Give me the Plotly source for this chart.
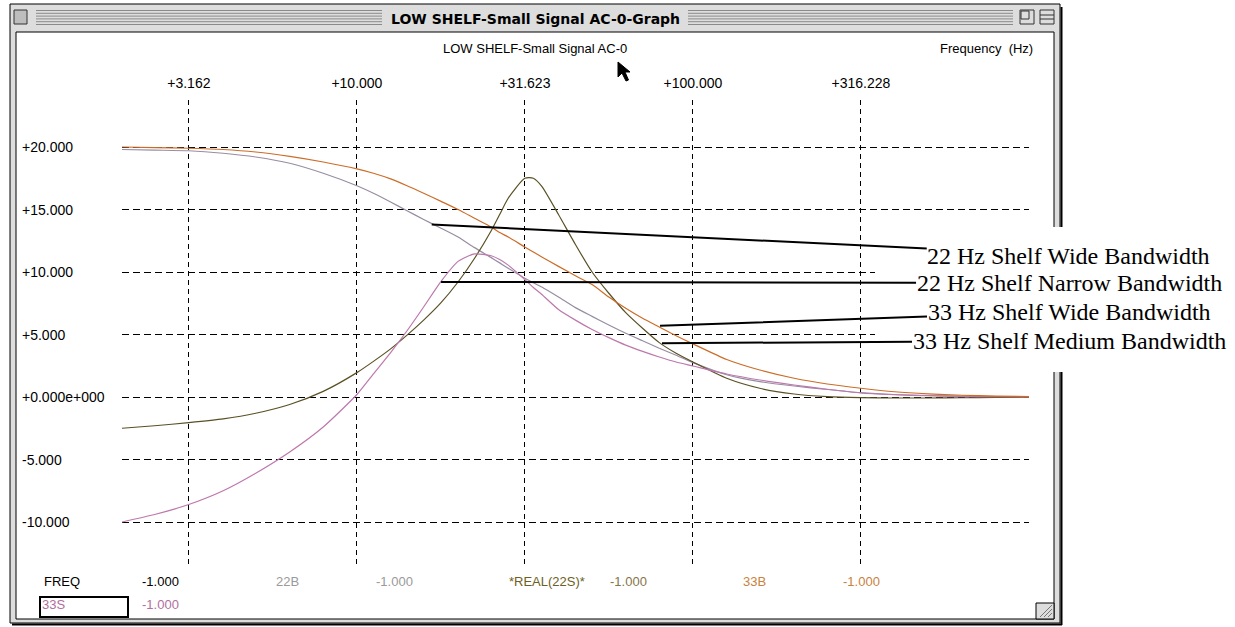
import math
import plotly.graph_objects as go

# ---------------- data ----------------
freq_hz = [2, 2.5, 3.16, 4, 5, 6.31, 7.94, 10, 11.2, 12.6, 14.1, 15.8, 17.8, 20,
           22.4, 25.1, 26.6, 28.2, 31.6, 33.5, 35.5, 39.8, 44.7, 50.1, 56.2, 63.1,
           70.8, 79.4, 89.1, 100, 126, 158, 200, 251, 316, 398, 501, 631, 794, 1000]

db_22B = [19.8, 19.75, 19.7, 19.5, 19.2, 18.7, 17.9, 16.9, 16.3, 15.6, 14.9, 14.2,
          13.5, 12.8, 11.95, 11.15, 10.73, 10.3, 9.5, 9.14, 8.8, 8.0, 7.15, 6.45,
          5.76, 5.1, 4.5, 3.9, 3.34, 2.75, 1.78, 1.23, 0.88, 0.6, 0.35, 0.2, 0.12,
          0.06, 0.03, 0.01]

db_real22S = [-2.5, -2.3, -2.05, -1.75, -1.3, -0.6, 0.45, 1.95, 2.85, 3.85, 4.95, 6.15,
              7.55, 9.2, 11.1, 13.3, 14.6, 15.9, 17.5, 17.5, 16.85, 14.6, 12.2, 10.0,
              8.3, 6.75, 5.5, 4.35, 3.5, 2.8, 1.5, 0.7, 0.24, 0.03, -0.05, -0.08,
              -0.08, -0.06, -0.03, -0.02]

db_33B = [20.0, 19.95, 19.9, 19.8, 19.6, 19.25, 18.8, 18.25, 17.9, 17.45, 16.9, 16.3,
          15.65, 15.0, 14.3, 13.6, 13.16, 12.8, 12.0, 11.6, 11.2, 10.45, 9.7, 9.0,
          8.0, 7.1, 6.3, 5.6, 4.9, 4.25, 3.0, 2.16, 1.5, 1.04, 0.7, 0.42, 0.25,
          0.14, 0.07, 0.03]

db_33S = [-10.0, -9.4, -8.6, -7.5, -6.1, -4.4, -2.4, 0.2, 1.85, 3.55, 5.3, 7.2,
          9.25, 10.85, 11.45, 11.3, 11.0, 10.55, 9.4, 8.76, 8.2, 7.0, 6.15, 5.4,
          4.75, 4.15, 3.65, 3.2, 2.8, 2.48, 1.84, 1.36, 0.96, 0.62, 0.32, 0.18,
          0.1, 0.05, 0.02, 0.0]

series_names = ["22B", "*REAL(22S)*", "33S", "33B"]
series_values = [db_22B, db_real22S, db_33S, db_33B]
series_colors = ["#978DA2", "#5A5024", "#BD78AC", "#CC6C28"]

x_tick_vals = [3.162, 10.0, 31.623, 100.0, 316.228]
x_tick_text = ["+3.162", "+10.000", "+31.623", "+100.000", "+316.228"]
y_tick_vals = [20, 15, 10, 5, 0, -5, -10]
y_tick_text = ["+20.000", "+15.000", "+10.000", "+5.000", "+0.000e+000", "-5.000", "-10.000"]

callout_labels = ["22 Hz Shelf Wide Bandwidth", "22 Hz Shelf Narrow Bandwidth",
                  "33 Hz Shelf Wide Bandwidth", "33 Hz Shelf Medium Bandwidth"]
callout_freq_hz = [16.7, 17.8, 79.8, 80.9]
callout_db = [13.8, 9.2, 5.7, 4.3]

chart_title = "LOW SHELF-Small Signal AC-0"
window_title = "LOW SHELF-Small Signal AC-0-Graph"
x_title = "Frequency  (Hz)"

# ---------------- layout geometry (pixels) ----------------
FIG_W, FIG_H = 1235, 627
L, R, T, B = 122, 1029, 100, 565
W, H = R - L, B - T


def px(x):
    return (x - L) / W


def py(y):
    return (B - y) / H


shapes = []


def rect(x0, y0, x1, y1, fill, line_color=None, lw=1, layer="below"):
    shapes.append(dict(type="rect", xref="paper", yref="paper",
                       x0=px(x0), x1=px(x1), y0=py(y1), y1=py(y0),
                       fillcolor=fill,
                       line=dict(color=line_color if line_color else fill,
                                 width=lw if line_color else 0),
                       layer=layer))


def seg(x0, y0, x1, y1, color, lw=1, layer="below"):
    shapes.append(dict(type="line", xref="paper", yref="paper",
                       x0=px(x0), y0=py(y0), x1=px(x1), y1=py(y1),
                       line=dict(color=color, width=lw), layer=layer))


# window chrome
rect(10, 4, 1060, 623, "#DDDDDD", "#000000", 1)
seg(1061.5, 7, 1061.5, 625, "#000000", 2)
seg(12, 624.5, 1062, 624.5, "#000000", 2)
rect(16, 32, 1054, 619, "#FFFFFF", "#000000", 1)
for k in range(6):
    yy = 10.5 + 2.8 * k
    seg(36, yy, 382, yy, "#8A8A8A", 1)
    seg(688, yy, 1013, yy, "#8A8A8A", 1)
rect(14, 10, 27, 24, "#BDBDBD", "#333333", 1)
rect(1020, 10, 1034, 24, "#DDDDDD", "#333333", 1)
rect(1021, 11, 1029, 19, "#DDDDDD", "#333333", 1)
rect(1040, 10, 1054, 24, "#DDDDDD", "#333333", 1)
seg(1040, 15, 1054, 15, "#333333", 1)
seg(1040, 19, 1054, 19, "#333333", 1)
# resize grip
rect(1036, 603, 1054, 619, "#DDDDDD", "#000000", 1)
for d in (4, 8, 12):
    seg(1052 - d, 617, 1052, 617 - d, "#777777", 1)
# 33S selection box
rect(40, 597, 128, 617, "rgba(0,0,0,0)", "#000000", 2)

# white callout box covering the right edge
rect(875, 227, 1235, 372, "#FFFFFF", None, layer="above")

# mouse pointer
cursor_pts = [(618, 62), (618, 77), (622, 73), (626, 81), (628.5, 80), (625, 72), (630, 72)]
path = "M " + " L ".join(f"{px(a):.5f},{py(b):.5f}" for a, b in cursor_pts) + " Z"
shapes.append(dict(type="path", xref="paper", yref="paper", path=path,
                   fillcolor="#000000", line=dict(color="#000000", width=1), layer="above"))

# ---------------- traces ----------------
fig = go.Figure()
for name, vals, col in zip(series_names, series_values, series_colors):
    fig.add_trace(go.Scatter(x=freq_hz, y=vals, mode="lines", name=name,
                             line=dict(color=col, width=1.2, shape="spline", smoothing=0.6),
                             hoverinfo="skip", showlegend=False))

SANS = "Liberation Sans, Arial, sans-serif"
annotations = []


def label(text, x, y, color="#000000", size=13, anchor="left", family=SANS, bold=False):
    annotations.append(dict(text=f"<b>{text}</b>" if bold else text,
                            xref="paper", yref="paper", x=px(x), y=py(y),
                            xanchor=anchor, yanchor="middle", showarrow=False,
                            font=dict(family=family, size=size, color=color)))


# window title and chart titles
label(window_title, 535, 19, size=14, anchor="center", family="DejaVu Sans, sans-serif", bold=True)
label(chart_title, 441, 48, size=13)
label(x_title, 938, 48, size=13)

# y tick labels (left aligned)
for v, t in zip(y_tick_vals, y_tick_text):
    annotations.append(dict(text=t, xref="paper", yref="y", x=px(20), y=v,
                            xanchor="left", yanchor="middle", showarrow=False,
                            font=dict(family=SANS, size=14, color="#000000")))

# bottom status labels
status_row1 = [("FREQ", 42, "#000000"), ("-1.000", 140, "#000000"),
               (series_names[0], 274, "#9A9A9A"), ("-1.000", 374, "#9A9A9A"),
               (series_names[1], 507, "#6E5E24"), ("-1.000", 608, "#857548"),
               (series_names[3], 741, "#C98240"), ("-1.000", 841, "#C98240")]
for t, x, c in status_row1:
    label(t, x, 581, color=c, size=13)
label(series_names[2], 40, 604, color="#B070A0", size=13)
label("-1.000", 140, 604, color="#B070A0", size=13)

# callouts with connector lines
text_cx = 1069
text_cy = [255, 283, 311.5, 341]
anchor_py = [224, 282, 325.5, 343.5]
anchor_px = [432, 441, 660, 662]
for lab, f, d, cy, ax0, ay0 in zip(callout_labels, callout_freq_hz, callout_db,
                                   text_cy, anchor_px, anchor_py):
    annotations.append(dict(text=lab, xref="x", yref="y", x=math.log10(f), y=d,
                            showarrow=True, arrowhead=0, arrowwidth=2, arrowcolor="#000000",
                            ax=text_cx - ax0, ay=cy - ay0, axref="pixel", ayref="pixel",
                            standoff=0, borderpad=0,
                            font=dict(family="Liberation Serif, Times New Roman, serif",
                                      size=24, color="#000000")))

fig.update_layout(
    width=FIG_W, height=FIG_H, autosize=False,
    margin=dict(l=L, r=FIG_W - R, t=T, b=FIG_H - B, pad=0),
    paper_bgcolor="#FFFFFF", plot_bgcolor="rgba(0,0,0,0)",
    shapes=shapes, annotations=annotations, showlegend=False,
    xaxis=dict(type="log", range=[math.log10(2), math.log10(1000)], side="top",
               tickvals=x_tick_vals, ticktext=x_tick_text, ticks="",
               ticklabelstandoff=8,
               tickfont=dict(family=SANS, size=14, color="#000000"),
               showgrid=True, gridcolor="#000000", gridwidth=1, griddash="5px,4px",
               zeroline=False, showline=False),
    yaxis=dict(range=[-13.44, 23.76], tickvals=y_tick_vals, showticklabels=False,
               ticks="", showgrid=True, gridcolor="#000000", gridwidth=1,
               griddash="7px,4px", zeroline=False, showline=False),
)

fig.write_html("out.html", config={"displayModeBar": False},
               post_script="document.body.style.margin='0px';document.body.style.overflow='hidden';")
